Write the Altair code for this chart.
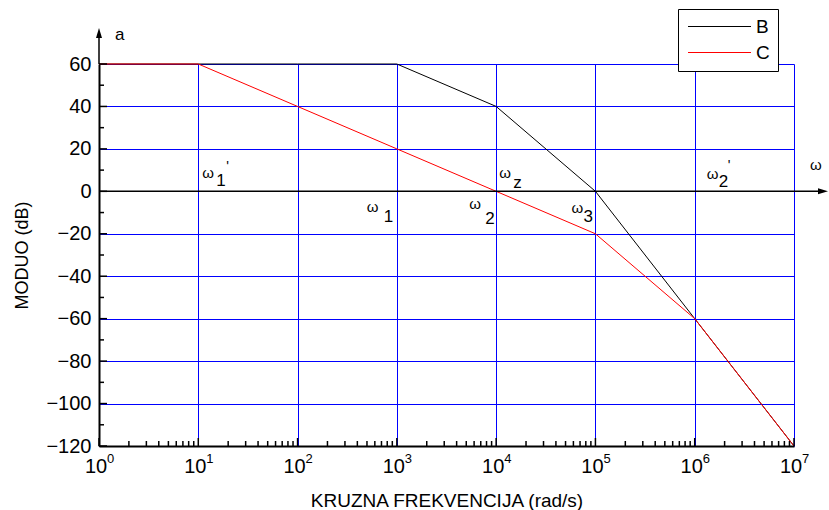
import altair as alt
import pandas as pd

# ---- data ----
freq = [1, 10, 100, 1e3, 1e4, 1e5, 1e6, 1e7]
mod_b = [60, 60, 60, 60, 40, 0, -60, -120]
mod_c = [60, 60, 40, 20, 0, -20, -60, -120]
series_names = ["B", "C"]
series_colors = ["#000000", "#ff0000"]
decades = [1, 10, 100, 1e3, 1e4, 1e5, 1e6, 1e7]
decade_exp = ["0", "1", "2", "3", "4", "5", "6", "7"]
y_major = [-120, -100, -80, -60, -40, -20, 0, 20, 40, 60]
y_minor = [-110, -90, -70, -50, -30, -10, 10, 30, 50]
x_minor = [m * d for d in [1, 10, 100, 1e3, 1e4, 1e5, 1e6] for m in [2, 3, 4, 5, 6, 7, 8, 9]]
x_title = "KRUZNA FREKVENCIJA (rad/s)"
y_title = "MODUO (dB)"

W, H = 695, 382
FONT = "Liberation Sans"
GRID = "#0000ff"

lines_df = pd.DataFrame({
    "freq": freq * 2,
    "mod": mod_b + mod_c,
    "series": ["B"] * len(freq) + ["C"] * len(freq),
})
one = pd.DataFrame({"k": [0]})

xs = alt.Scale(type="log", domain=[1, 1e7])
ys = alt.Scale(domain=[-120, 60])

xaxis = alt.Axis(values=decades, grid=True, gridColor=GRID, gridWidth=1,
                 labels=False, ticks=False, domain=True, domainColor="#000000",
                 domainWidth=2, title=x_title, titleFont=FONT, titleFontSize=19,
                 titleFontWeight="normal", titleColor="#000000", titleY=60,
                 titleBaseline="alphabetic")
yaxis = alt.Axis(values=y_major, grid=True, gridColor=GRID, gridWidth=1,
                 ticks=False, domain=True, domainColor="#000000", domainWidth=2,
                 labelFont=FONT, labelFontSize=20, labelColor="#000000",
                 labelPadding=8, title=y_title, titleFont=FONT, titleFontSize=18,
                 titleFontWeight="normal", titleColor="#000000", titleX=-77,
                 titleY=191, titleAlign="center", titleBaseline="middle")

# legend symbol: a horizontal stroke drawn by a custom path (unit = 6 px)
legend = alt.Legend(title=None, orient="none", legendX=579, legendY=-55,
                    fillColor="white", strokeColor="#000000", padding=8,
                    symbolType="M-5.25,0L5.25,0", symbolSize=144,
                    symbolStrokeWidth=1, symbolOffset=24,
                    labelFont=FONT, labelFontSize=19, labelColor="#000000",
                    labelOffset=27, rowPadding=6)

lines = alt.Chart(lines_df).mark_line(strokeWidth=1).encode(
    x=alt.X("freq:Q", scale=xs, axis=xaxis),
    y=alt.Y("mod:Q", scale=ys, axis=yaxis),
    color=alt.Color("series:N",
                    scale=alt.Scale(domain=series_names, range=series_colors),
                    legend=legend),
)

# zero line (horizontal axis) with arrow
zero_line = alt.Chart(one).mark_rule(color="#000000", strokeWidth=1.5).encode(
    x=alt.XDatum(1, scale=xs, axis=xaxis),
    x2=alt.value(W + 30),
    y=alt.YDatum(0, scale=ys, axis=yaxis),
)
x_arrow = alt.Chart(one).mark_point(shape="M0,0L-2,-0.6L-2,0.6Z", filled=True,
                                    color="#000000", size=100, opacity=1).encode(
    x=alt.value(W + 34),
    y=alt.YDatum(0, scale=ys, axis=yaxis),
)
# y axis extension with arrow
y_ext = alt.Chart(one).mark_rule(color="#000000", strokeWidth=1.5).encode(
    x=alt.XDatum(1, scale=xs, axis=xaxis),
    y=alt.value(0),
    y2=alt.value(-30),
)
y_arrow = alt.Chart(one).mark_point(shape="M0,0L-0.6,2L0.6,2Z", filled=True,
                                    color="#000000", size=100, opacity=1).encode(
    x=alt.XDatum(1, scale=xs, axis=xaxis),
    y=alt.value(-36),
)
a_label = alt.Chart(one).mark_text(text="a", font=FONT, fontSize=17, color="#000000",
                                   align="left", baseline="middle", dx=16).encode(
    x=alt.XDatum(1, scale=xs, axis=xaxis),
    y=alt.value(-29),
)

# inward ticks
xmaj_df = pd.DataFrame({"f": decades, "e": decade_exp})
xmin_df = pd.DataFrame({"f": x_minor})
ymaj_df = pd.DataFrame({"v": y_major})
ymin_df = pd.DataFrame({"v": y_minor})

x_major_ticks = alt.Chart(xmaj_df).mark_rule(color="#000000", strokeWidth=1.5).encode(
    x=alt.X("f:Q", scale=xs, axis=xaxis), y=alt.value(H), y2=alt.value(H - 8))
x_minor_ticks = alt.Chart(xmin_df).mark_rule(color="#000000", strokeWidth=1.5).encode(
    x=alt.X("f:Q", scale=xs, axis=xaxis), y=alt.value(H), y2=alt.value(H - 5))
y_major_ticks = alt.Chart(ymaj_df).mark_rule(color="#000000", strokeWidth=1.5).encode(
    y=alt.Y("v:Q", scale=ys, axis=yaxis), x=alt.value(0), x2=alt.value(8))
y_minor_ticks = alt.Chart(ymin_df).mark_rule(color="#000000", strokeWidth=1.5).encode(
    y=alt.Y("v:Q", scale=ys, axis=yaxis), x=alt.value(0), x2=alt.value(5))

# x tick labels 10^k
x_base = alt.Chart(xmaj_df).mark_text(text="10", font=FONT, fontSize=20, color="#000000",
                                      align="center", baseline="alphabetic", dx=-3).encode(
    x=alt.X("f:Q", scale=xs, axis=xaxis), y=alt.value(H + 27))
x_exp = alt.Chart(xmaj_df).mark_text(font=FONT, fontSize=13, color="#000000",
                                     align="left", baseline="alphabetic", dx=8).encode(
    x=alt.X("f:Q", scale=xs, axis=xaxis), y=alt.value(H + 17), text="e:N")


def txt(s, fx, dx, dy, size):
    return alt.Chart(one).mark_text(text=s, font=FONT, fontSize=size, color="#000000",
                                    align="left", baseline="alphabetic",
                                    dx=dx, dy=dy).encode(
        x=alt.XDatum(fx, scale=xs, axis=xaxis),
        y=alt.YDatum(0, scale=ys, axis=yaxis),
    )


OM, SUB, PR = 15, 17, 14
annotations = [
    # omega_1'
    txt("ω", 10, 4, -13, OM), txt("1", 10, 18, -5, SUB), txt("'", 10, 28, -20, PR),
    # omega_1
    txt("ω", 1e3, -30, 21, OM), txt("1", 1e3, -13, 31, SUB),
    # omega_2
    txt("ω", 1e4, -27, 18, OM), txt("2", 1e4, -11, 33, SUB),
    # omega_z
    txt("ω", 1e4, 3, -13, OM), txt("z", 1e4, 17, -3, SUB),
    # omega_3
    txt("ω", 1e5, -24, 22, OM), txt("3", 1e5, -12, 31, SUB),
    # omega_2'
    txt("ω", 1e6, 12, -12, OM), txt("2", 1e6, 24, -4, SUB), txt("'", 1e6, 33, -21, PR),
    # omega axis label
    txt("ω", 1e7, 16, -21, OM),
]

chart = alt.layer(
    lines, zero_line, x_arrow, y_ext, y_arrow, a_label,
    x_major_ticks, x_minor_ticks, y_major_ticks, y_minor_ticks,
    x_base, x_exp, *annotations,
).properties(
    width=W, height=H,
    autosize=alt.AutoSizeParams(type="none"),
    padding={"left": 99, "top": 64, "right": 35, "bottom": 64},
    background="white",
).configure_view(stroke=None)

chart.save("out.html", embed_options={"renderer": "svg", "actions": False})
